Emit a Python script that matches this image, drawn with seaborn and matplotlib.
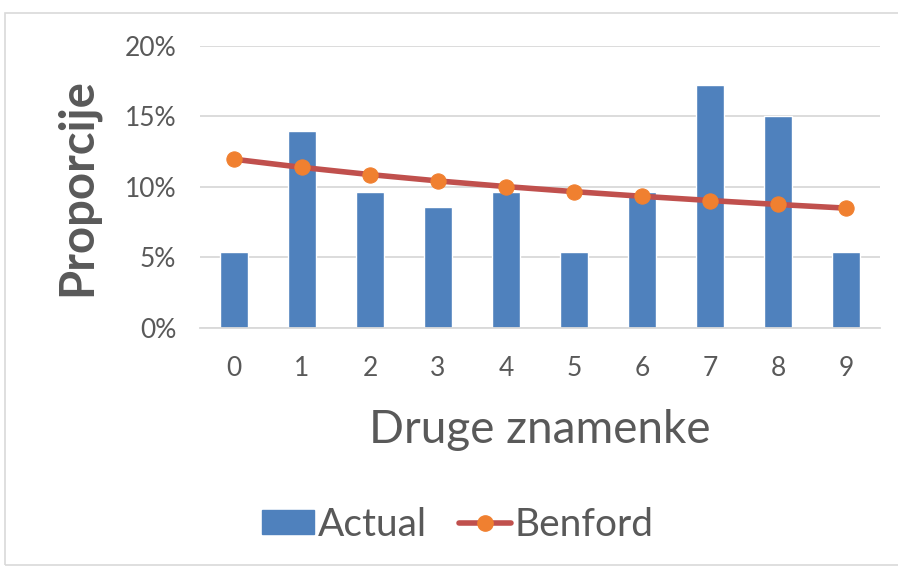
import matplotlib
matplotlib.use("Agg")
import matplotlib.pyplot as plt
import seaborn as sns
import pandas as pd
from matplotlib.patches import Patch, Rectangle
from matplotlib.lines import Line2D
from matplotlib.ticker import PercentFormatter

# druge znamenke
digits = ["0", "1", "2", "3", "4", "5", "6", "7", "8", "9"]
actual = [0.0538, 0.1398, 0.0968, 0.0860, 0.0968, 0.0538, 0.0968, 0.1720, 0.1505, 0.0538]
benford = [0.1197, 0.1139, 0.1088, 0.1043, 0.1003, 0.0967, 0.0934, 0.0904, 0.0876, 0.0850]

sns.set_style("white")
plt.rcParams['font.family'] = ['Lato', 'DejaVu Sans']

bar_col = "#4F81BD"
line_col = "#C0504D"
mark_col = "#F08030"
txt_col = "#595959"

df = pd.DataFrame({"digit": digits, "actual": actual, "benford": benford})

fig = plt.figure(figsize=(8.98, 5.70), dpi=100)
ax = fig.add_axes([0.2227, 0.4246, 0.7573, 0.4947])

sns.barplot(data=df, x="digit", y="actual", color=bar_col, width=0.4,
            saturation=1, ax=ax, zorder=2)
sns.lineplot(x=list(range(len(digits))), y=benford, color=line_col, lw=4,
             marker="o", markersize=11, markerfacecolor=mark_col,
             markeredgecolor=mark_col, ax=ax, zorder=3)

ax.set_xlim(-0.5, 9.5)
ax.set_ylim(0, 0.2)
ax.set_yticks([0, 0.05, 0.10, 0.15, 0.20])
ax.yaxis.set_major_formatter(PercentFormatter(1.0, decimals=0))
ax.grid(axis="y", color="#D9D9D9", lw=1.3, zorder=0)
for s in ["top", "right", "left"]:
    ax.spines[s].set_visible(False)
ax.spines["bottom"].set_color("#D9D9D9")
ax.spines["bottom"].set_linewidth(1.3)
ax.tick_params(axis="both", length=0, labelsize=19, colors=txt_col)
ax.tick_params(axis="x", pad=20)
ax.tick_params(axis="y", pad=17)

ax.set_xlabel("Druge znamenke", fontsize=33, color=txt_col, labelpad=20)
ax.set_ylabel("Proporcije", fontsize=34, fontweight="bold", color=txt_col, labelpad=18)

handles = [Patch(facecolor=bar_col, edgecolor=bar_col),
           Line2D([0], [0], color=line_col, lw=4, marker="o", markersize=11,
                  markerfacecolor=mark_col, markeredgecolor=mark_col)]
fig.legend(handles, ["Actual", "Benford"], loc="center", bbox_to_anchor=(0.51, 0.079),
           ncol=2, frameon=False, fontsize=28, labelcolor=txt_col,
           handlelength=1.35, handleheight=0.55, handletextpad=0.1, columnspacing=0.8)

fig.patches.append(Rectangle((5 / 898, 5 / 570), 1, 1 - 18 / 570, transform=fig.transFigure,
                             fill=False, edgecolor="#D9D9D9", lw=1.2))

fig.savefig("out.png", dpi=100)
